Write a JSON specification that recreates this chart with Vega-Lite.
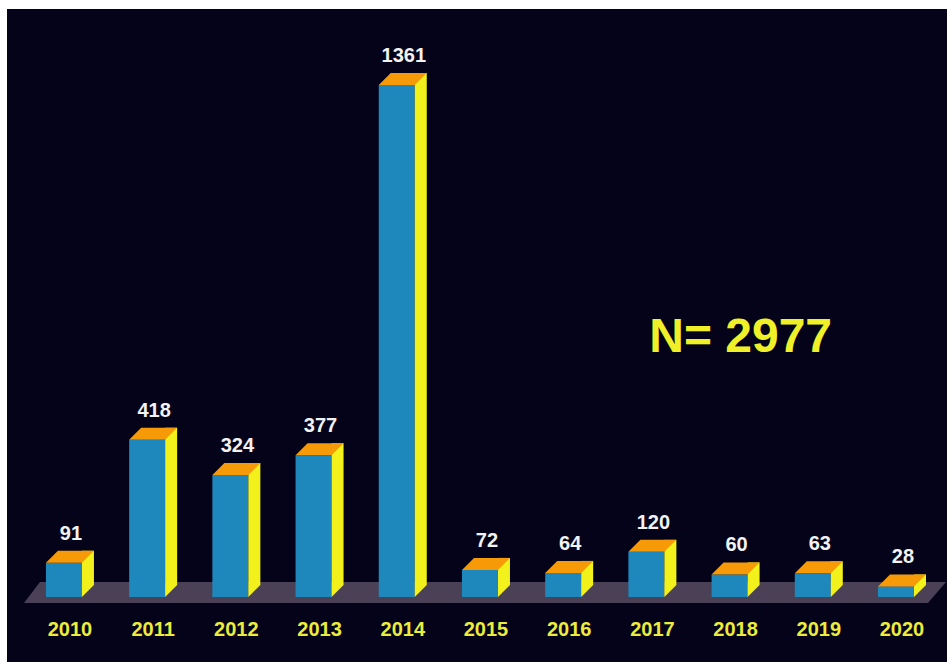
{
  "$schema": "https://vega.github.io/schema/vega-lite/v6.json",
  "width": 940,
  "height": 653,
  "autosize": {"type": "none"},
  "padding": {"left": 7, "top": 9, "right": 0, "bottom": 0},
  "background": "#ffffff",
  "config": {"view": {"fill": "#05031a", "stroke": null}},
  "data": {
    "values": [
      {"year": 2010, "count": 91},
      {"year": 2011, "count": 418},
      {"year": 2012, "count": 324},
      {"year": 2013, "count": 377},
      {"year": 2014, "count": 1361},
      {"year": 2015, "count": 72},
      {"year": 2016, "count": 64},
      {"year": 2017, "count": 120},
      {"year": 2018, "count": 60},
      {"year": 2019, "count": 63},
      {"year": 2020, "count": 28}
    ]
  },
  "layer": [
    {
      "data": {"values": [{"part": "floor"}]},
      "mark": {"type": "point", "shape": "M-440,-15L466,-15L448,6L-456,6Z", "size": 4, "filled": true, "opacity": 1, "strokeWidth": 0, "color": "#4a4156"},
      "encoding": {
        "x": {"datum": 2015, "type": "quantitative", "scale": {"domain": [2009.3757, 2020.5529], "nice": false, "zero": false}, "axis": null},
        "y": {"datum": 0, "type": "quantitative", "scale": {"domain": [-172.78, 1563.0], "nice": false, "zero": false}, "axis": null}
      }
    },
    {
      "mark": {"type": "bar", "width": 36, "color": "#1e87bc"},
      "encoding": {
        "x": {"field": "year", "type": "quantitative", "scale": {"domain": [2009.3757, 2020.5529], "nice": false, "zero": false}, "axis": null},
        "y": {"field": "count", "type": "quantitative", "scale": {"domain": [-172.78, 1563.0], "nice": false, "zero": false}, "axis": null},
        "y2": {"datum": 0}
      }
    },
    {
      "mark": {"type": "bar", "width": 12, "xOffset": 24, "yOffset": -12, "y2Offset": -12, "color": "#f3f11c"},
      "encoding": {
        "x": {"field": "year", "type": "quantitative", "scale": {"domain": [2009.3757, 2020.5529], "nice": false, "zero": false}, "axis": null},
        "y": {"field": "count", "type": "quantitative", "scale": {"domain": [-172.78, 1563.0], "nice": false, "zero": false}, "axis": null},
        "y2": {"datum": 0}
      }
    },
    {
      "mark": {"type": "point", "shape": "M18,-12L30,-12L18,0Z", "size": 4, "filled": true, "opacity": 1, "strokeWidth": 0, "color": "#f3f11c"},
      "encoding": {
        "x": {"field": "year", "type": "quantitative", "scale": {"domain": [2009.3757, 2020.5529], "nice": false, "zero": false}, "axis": null},
        "y": {"datum": 0, "type": "quantitative", "scale": {"domain": [-172.78, 1563.0], "nice": false, "zero": false}, "axis": null}
      }
    },
    {
      "mark": {"type": "point", "shape": "M-18,0L18,0L30,-12L-6,-12Z", "size": 4, "filled": true, "opacity": 1, "strokeWidth": 0, "color": "#f69a08"},
      "encoding": {
        "x": {"field": "year", "type": "quantitative", "scale": {"domain": [2009.3757, 2020.5529], "nice": false, "zero": false}, "axis": null},
        "y": {"field": "count", "type": "quantitative", "scale": {"domain": [-172.78, 1563.0], "nice": false, "zero": false}, "axis": null}
      }
    },
    {
      "mark": {"type": "text", "dx": 7, "dy": -29, "baseline": "middle", "align": "center", "font": "Liberation Sans", "fontWeight": "bold", "fontSize": 20, "color": "#f2f2f2"},
      "encoding": {
        "x": {"field": "year", "type": "quantitative", "scale": {"domain": [2009.3757, 2020.5529], "nice": false, "zero": false}, "axis": null},
        "y": {"field": "count", "type": "quantitative", "scale": {"domain": [-172.78, 1563.0], "nice": false, "zero": false}, "axis": null},
        "text": {"field": "count", "type": "quantitative"}
      }
    },
    {
      "mark": {"type": "text", "dx": 6, "dy": 33, "baseline": "middle", "align": "center", "font": "Liberation Sans", "fontWeight": "bold", "fontSize": 20, "color": "#ecec3c"},
      "encoding": {
        "x": {"field": "year", "type": "quantitative", "scale": {"domain": [2009.3757, 2020.5529], "nice": false, "zero": false}, "axis": null},
        "y": {"datum": 0, "type": "quantitative", "scale": {"domain": [-172.78, 1563.0], "nice": false, "zero": false}, "axis": null},
        "text": {"field": "year", "type": "nominal"}
      }
    },
    {
      "data": {"values": [{"label": "N= 2977"}]},
      "mark": {"type": "text", "baseline": "middle", "align": "center", "font": "Liberation Sans", "fontWeight": "bold", "fontSize": 48, "color": "#f0f028"},
      "encoding": {
        "x": {"datum": 2018.133, "type": "quantitative", "scale": {"domain": [2009.3757, 2020.5529], "nice": false, "zero": false}, "axis": null},
        "y": {"datum": 688.5, "type": "quantitative", "scale": {"domain": [-172.78, 1563.0], "nice": false, "zero": false}, "axis": null},
        "text": {"field": "label", "type": "nominal"}
      }
    }
  ]
}
